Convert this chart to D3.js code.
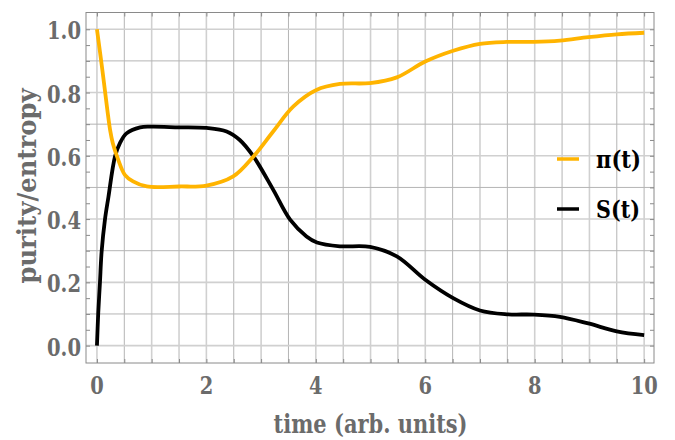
<!DOCTYPE html>
<html lang="en">
<head>
<meta charset="UTF-8">
<title>purity / entropy</title>
<style>
body { margin: 0; background: #fff; }
svg text { font-family: "DejaVu Serif Condensed", "DejaVu Serif"; font-weight: bold; }
.tick-label { fill: #6b6b6b; font-size: 25px; }
.axis-label { fill: #6b6b6b; font-size: 26px; }
.legend-label { fill: #000; font-size: 25px; }
</style>
</head>
<body>
<svg width="675" height="440"></svg>
<script src="https://d3js.org/d3.v7.min.js"></script>
<script>

// purity pi(t)
var piTimes = [0, 0.1, 0.19, 0.24, 0.29, 0.39, 0.51, 0.66, 0.91, 1.5, 2.0, 2.49, 2.86, 3.22, 3.59, 4.01, 4.44, 4.99, 5.48, 6.0, 6.51, 7.0, 7.49, 7.98, 8.46, 8.98, 9.5, 10];
var piValues = [1.0, 0.87, 0.745, 0.682, 0.64, 0.587, 0.54, 0.519, 0.503, 0.503, 0.506, 0.535, 0.598, 0.677, 0.756, 0.808, 0.827, 0.83, 0.848, 0.898, 0.932, 0.954, 0.96, 0.96, 0.964, 0.975, 0.984, 0.989];

// entropy S(t)
var sTimes = [0, 0.024, 0.055, 0.086, 0.146, 0.21, 0.33, 0.42, 0.54, 0.79, 1.0, 1.5, 2.0, 2.37, 2.61, 2.86, 3.22, 3.53, 3.83, 4.02, 4.44, 4.99, 5.48, 6.0, 6.51, 7.0, 7.49, 7.98, 8.46, 8.98, 9.5, 10];
var sValues = [0.0, 0.104, 0.2, 0.298, 0.398, 0.47, 0.598, 0.64, 0.671, 0.69, 0.692, 0.69, 0.688, 0.677, 0.65, 0.598, 0.493, 0.398, 0.345, 0.326, 0.314, 0.312, 0.282, 0.208, 0.15, 0.111, 0.099, 0.098, 0.091, 0.07, 0.045, 0.033];

var xTicks = [0, 2, 4, 6, 8, 10];
var yTicks = [0, 0.2, 0.4, 0.6, 0.8, 1.0];

var seriesNames = ["\u03c0(t)", "S(t)"];
var seriesColors = ["#ffb400", "#000000"];

var svg = d3.select("svg");
var frame = {left: 86, right: 654, top: 12.5, bottom: 363};

var x = d3.scaleLinear().domain([-0.2, 10.18]).range([frame.left, frame.right]);
var y = d3.scaleLinear().domain([-0.055, 1.053]).range([frame.bottom, frame.top]);

// only a bold DejaVu Serif is around, it runs wider than the Times of the original,
// so squeeze the strings to the widths they have there
var squeeze = function(sel, width) {
    sel.attr("textLength", width).attr("lengthAdjust", "spacingAndGlyphs");
};

// grid lines
var gridX = d3.range(0, 10.001, 0.5);
var gridY = d3.range(0, 1.001, 0.1);

var grid = svg.append("g");
grid.selectAll(".gx")
    .data(gridX)
    .enter().append("line")
    .attr("x1", function(d) { return x(d); })
    .attr("x2", function(d) { return x(d); })
    .attr("y1", frame.top)
    .attr("y2", frame.bottom)
    .attr("stroke", function(d) { return Math.abs(d % 1) < 1e-6 ? "#d0d0d0" : "#b4b4b4"; })
    .attr("stroke-width", function(d) { return Math.abs(d % 1) < 1e-6 ? 1.6 : 1; });

grid.selectAll(".gy")
    .data(gridY)
    .enter().append("line")
    .attr("x1", frame.left)
    .attr("x2", frame.right)
    .attr("y1", function(d) { return y(d); })
    .attr("y2", function(d) { return y(d); })
    .attr("stroke", function(d, i) { return i % 2 == 0 ? "#d0d0d0" : "#b4b4b4"; })
    .attr("stroke-width", function(d, i) { return i % 2 == 0 ? 1.6 : 1; });

// frame
svg.append("rect")
    .attr("x", frame.left)
    .attr("y", frame.top)
    .attr("width", frame.right - frame.left)
    .attr("height", frame.bottom - frame.top)
    .attr("fill", "none")
    .attr("stroke", "#8a8a8a")
    .attr("stroke-width", 1);

// ticks on the frame, pointing inward
var bottomAxis = d3.axisBottom(x).tickValues(gridX).tickSize(-4).tickFormat("");
var topAxis = d3.axisTop(x).tickValues(gridX).tickSize(-4).tickFormat("");
var yMinor = d3.range(0, 1.001, 0.05);
var leftAxis = d3.axisLeft(y).tickValues(yMinor).tickSize(-4).tickFormat("");
var rightAxis = d3.axisRight(y).tickValues(yMinor).tickSize(-4).tickFormat("");

[[bottomAxis, "translate(0," + frame.bottom + ")"],
 [topAxis, "translate(0," + frame.top + ")"],
 [leftAxis, "translate(" + frame.left + ",0)"],
 [rightAxis, "translate(" + frame.right + ",0)"]].forEach(function(a) {
    var g = svg.append("g").attr("transform", a[1]).call(a[0]);
    g.select(".domain").remove();
    g.selectAll(".tick line").attr("stroke", "#8a8a8a");
});

// tick labels
svg.selectAll(".xl")
    .data(xTicks)
    .enter().append("text")
    .attr("class", "tick-label")
    .attr("x", function(d) { return x(d); })
    .attr("y", 394)
    .attr("text-anchor", "middle")
    .attr("textLength", function(d) { return String(d).length * 13.5; })
    .attr("lengthAdjust", "spacingAndGlyphs")
    .text(function(d) { return d; });

svg.selectAll(".yl")
    .data(yTicks)
    .enter().append("text")
    .attr("class", "tick-label")
    .attr("x", 81)
    .attr("y", function(d) { return y(d) + 10; })
    .attr("text-anchor", "end")
    .call(squeeze, 34)
    .text(function(d) { return d3.format(".1f")(d); });

// axis labels
svg.append("text")
    .attr("class", "axis-label")
    .attr("x", (x(0) + x(10)) / 2)
    .attr("y", 433)
    .attr("text-anchor", "middle")
    .call(squeeze, 194)
    .text("time (arb. units)");

svg.append("text")
    .attr("class", "axis-label")
    .attr("transform", "translate(36,186) rotate(-90)")
    .attr("text-anchor", "middle")
    .call(squeeze, 195)
    .text("purity/entropy");

// curves
var line = d3.line()
    .x(function(d) { return x(d[0]); })
    .y(function(d) { return y(d[1]); })
    .curve(d3.curveCatmullRom.alpha(0.5));

var plot = svg.append("g");
plot.append("path")
    .datum(d3.zip(sTimes, sValues))
    .attr("d", line)
    .attr("fill", "none")
    .attr("stroke", seriesColors[1])
    .attr("stroke-width", 3.8);

plot.append("path")
    .datum(d3.zip(piTimes, piValues))
    .attr("d", line)
    .attr("fill", "none")
    .attr("stroke", seriesColors[0])
    .attr("stroke-width", 3.8);

// legend
var legendWidths = [45, 44];
var legend = svg.append("g").attr("transform", "translate(557,159)");
seriesNames.forEach(function(name, i) {
    var row = legend.append("g").attr("transform", "translate(0," + (i * 50) + ")");
    row.append("line")
        .attr("x1", 0).attr("x2", 22)
        .attr("stroke", seriesColors[i])
        .attr("stroke-width", 3.5);
    row.append("text")
        .attr("class", "legend-label")
        .attr("x", 39)
        .attr("y", 9)
        .call(squeeze, legendWidths[i])
        .text(name);
});

</script>
</body>
</html>
